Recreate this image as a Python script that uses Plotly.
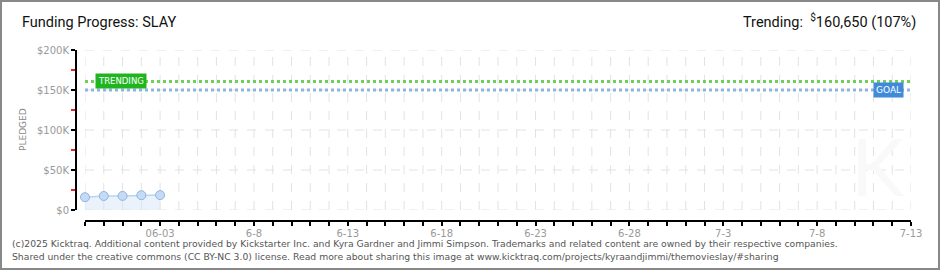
import plotly.graph_objects as go
import pandas as pd

# ---- data ----
dates = ["2025-05-30", "2025-05-31", "2025-06-01", "2025-06-02", "2025-06-03"]
pledged = [16000, 17500, 17600, 18500, 18600]
goal = 150000
trending = 160650
x_start = "2025-05-30"
x_end = "2025-07-13"
label_dates = ["2025-06-03", "2025-06-08", "2025-06-13", "2025-06-18", "2025-06-23",
               "2025-06-28", "2025-07-03", "2025-07-08", "2025-07-13"]
label_text = ["06-03", "6-8", "6-13", "6-18", "6-23", "6-28", "7-3", "7-8", "7-13"]
y_ticks = [0, 50000, 100000, 150000, 200000]
y_text = ["$0", "$50K", "$100K", "$150K", "$200K"]

W, H = 940, 270
ML, MR, MT, MB = 76, 29, 50, 49
PW, PH = W - ML - MR, H - MT - MB


def px(x):
    return (x - ML) / PW


def py(y):
    return (H - MB - y) / PH


all_days = pd.date_range(x_start, x_end, freq="D")
lab = dict(zip(label_dates, label_text))
tickvals = [d.strftime("%Y-%m-%d") for d in all_days]
ticktext = [lab.get(d, "") for d in tickvals]

fig = go.Figure()

fig.add_trace(go.Scatter(
    x=[x_start, x_end], y=[goal, goal], mode="lines",
    line=dict(color="#8fb3e3", width=3, dash="dot"), hoverinfo="skip"))
fig.add_trace(go.Scatter(
    x=[x_start, x_end], y=[trending, trending], mode="lines",
    line=dict(color="#6fd058", width=3, dash="dot"), hoverinfo="skip"))
fig.add_trace(go.Scatter(
    x=dates, y=pledged, mode="lines+markers", fill="tozeroy", cliponaxis=False,
    fillcolor="rgba(214,230,250,0.5)",
    line=dict(color="#b9d3f3", width=1.5),
    marker=dict(size=9, color="#c3dbf7", line=dict(color="#93b3da", width=1))))

tf = dict(family="DejaVu Sans", size=10, color="#999999")
xdom = [px(85), 1]
ydom = [py(210), 1]

fig.update_layout(
    width=W, height=H, margin=dict(l=ML, r=MR, t=MT, b=MB),
    paper_bgcolor="white", plot_bgcolor="white", showlegend=False,
    xaxis=dict(
        domain=xdom, range=[x_start, x_end], anchor="free", position=0,
        showline=True, linecolor="black", linewidth=2,
        tickmode="array", tickvals=tickvals, ticktext=ticktext,
        ticks="outside", ticklen=4, tickwidth=1.5, tickcolor="black",
        ticklabelstandoff=-1,
        showgrid=False, zeroline=False, tickfont=tf,
    ),
    yaxis=dict(
        domain=ydom, range=[0, 200000], anchor="free", position=0,
        showline=True, linecolor="black", linewidth=2,
        tickmode="array", tickvals=y_ticks, ticktext=y_text,
        ticks="outside", ticklen=4, tickwidth=1.5, tickcolor="black",
        minor=dict(dtick=25000, tick0=0, ticks="outside", ticklen=4,
                   tickcolor="#ee2222", tickwidth=1.5, showgrid=False),
        showgrid=False, zeroline=False, tickfont=tf,
    ),
)

# dashed grid, placed through the axes' own scales
grid = dict(color="#e2e2e2", width=1, dash="dash")
for d in tickvals:
    fig.add_shape(type="line", xref="x", yref="y", x0=d, x1=d, y0=0, y1=200000,
                  line=grid, layer="below")
for v in y_ticks:
    fig.add_shape(type="line", xref="x", yref="y", x0=x_start, x1=x_end, y0=v, y1=v,
                  line=grid, layer="below")

ann = [
    dict(text="Funding Progress: SLAY", x=px(20), y=py(22), xanchor="left", yanchor="middle",
         font=dict(family="Roboto", size=14.5, color="#111111")),
    dict(text="Trending:  <sup>$</sup>160,650 (107%)", x=px(918), y=py(21), xanchor="right",
         yanchor="middle", font=dict(family="Roboto", size=14.5, color="#111111")),
    dict(text="PLEDGED", x=px(23), y=py(130), textangle=-90, xanchor="center", yanchor="middle",
         font=dict(family="DejaVu Sans", size=9, color="#888888")),
    dict(text="TRENDING", x=px(120.5), y=py(80.5), xanchor="center", yanchor="middle",
         bgcolor="#1fb51f", borderpad=2,
         font=dict(family="DejaVu Sans", size=8.5, color="white")),
    dict(text="GOAL", x=px(888), y=py(89.5), xanchor="center", yanchor="middle",
         bgcolor="#3f8ad9", borderpad=2,
         font=dict(family="DejaVu Sans", size=9, color="white")),
    dict(text="K", x=px(878), y=py(165), xanchor="center", yanchor="middle",
         font=dict(family="Lato", size=80, color="#f9f9f9")),
    dict(text="(c)2025 Kicktraq. Additional content provided by Kickstarter Inc. and Kyra Gardner and Jimmi Simpson. Trademarks and related content are owned by their respective companies.",
         x=px(10), y=py(243), xanchor="left", yanchor="middle",
         font=dict(family="DejaVu Sans", size=9.25, color="#555555")),
    dict(text="Shared under the creative commons (CC BY-NC 3.0) license. Read more about sharing this image at www.kicktraq.com/projects/kyraandjimmi/themovieslay/#sharing",
         x=px(10), y=py(256), xanchor="left", yanchor="middle",
         font=dict(family="DejaVu Sans", size=9.25, color="#555555")),
]
for a in ann:
    a.update(xref="paper", yref="paper", showarrow=False)
fig.update_layout(annotations=ann)

fig.add_shape(type="rect", xref="paper", yref="paper",
              x0=px(1), x1=px(939), y0=py(1), y1=py(269),
              line=dict(color="#888888", width=2), layer="below")

fig.write_html("out.html")
